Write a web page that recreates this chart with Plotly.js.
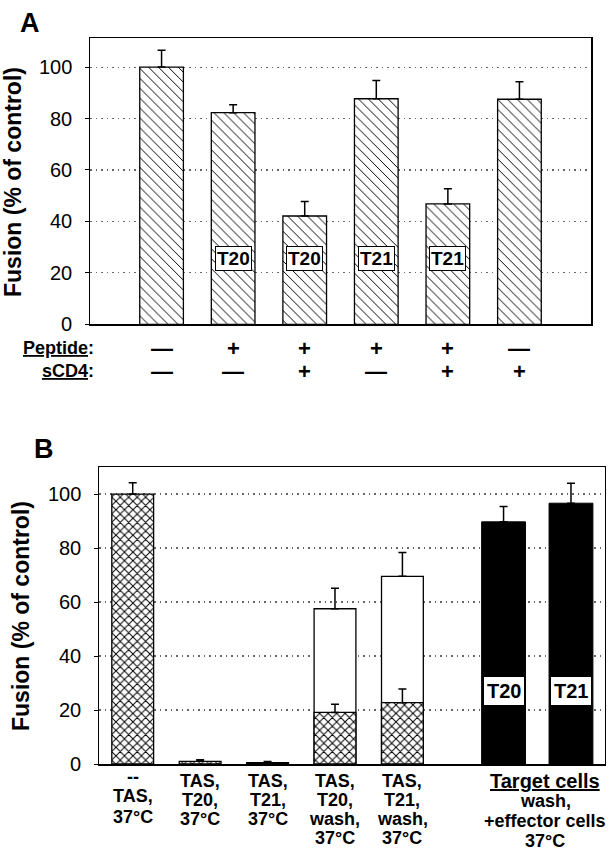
<!DOCTYPE html>
<html>
<head>
<meta charset="utf-8">
<script src="https://cdn.plot.ly/plotly-3.0.1.min.js"></script>
<style>html,body{margin:0;padding:0;background:#fff;}#chart{width:610px;height:852px;}</style>
</head>
<body>
<div id="chart"></div>
<script>
// ---------- Panel A data ----------
const peptideRowA = ['—', '+', '+', '+', '+', '—'];
const sCD4RowA    = ['—', '—', '+', '—', '+', '+'];
const fusionA     = [100, 82.3, 42.1, 87.7, 46.8, 87.5];
const errA        = [6.6, 3.1, 5.6, 7.1, 5.9, 6.8];
const peptideTagA = ['', 'T20', 'T20', 'T21', 'T21', ''];
const yTicks      = [0, 20, 40, 60, 80, 100];
const yTitle      = 'Fusion (% of control)';

// ---------- Panel B data ----------
const labelsB = [
  ['--', 'TAS,', '37°C'],
  ['TAS,', 'T20,', '37°C'],
  ['TAS,', 'T21,', '37°C'],
  ['TAS,', 'T20,', 'wash,', '37°C'],
  ['TAS,', 'T21,', 'wash,', '37°C']
];
const crossB     = [100, 1.0, 0.5, 19.1, 22.7];
const crossErrB  = [4.2, 0.6, 0.4, 3.0, 5.1];
const washTotalB = [null, null, null, 57.5, 69.5];
const washErrB   = [null, null, null, 7.6, 8.8];
const targetB    = [89.7, 96.6];
const targetErrB = [5.7, 7.4];
const targetTagB = ['T20', 'T21'];
const targetGroupLabel = ['<u>Target cells</u>', 'wash,', '+effector cells', '37°C'];

// ---------- geometry helpers ----------
const W = 610, H = 852;
const px = x => x / W;
const py = y => 1 - y / H;
const FONT = 'Liberation Sans, Arial, Helvetica, sans-serif';

const posA = fusionA.map((_, i) => i + 1);
const posB = crossB.map((_, i) => i + 1);
const posT = targetB.map((_, i) => 6.5 + i);

function errObj(arr) {
  return {type: 'data', symmetric: false, array: arr, arrayminus: arr.map(() => 0),
          color: '#000', thickness: 1.5, width: 4, visible: true};
}

const traces = [
  {
    type: 'bar', x: posA, y: fusionA, xaxis: 'x', yaxis: 'y', width: 0.61,
    marker: {color: '#fff', line: {color: '#000', width: 1.3},
             pattern: {shape: '\\', size: 7, solidity: 0.14, fgcolor: '#000', bgcolor: '#fff'}},
    error_y: errObj(errA), hoverinfo: 'none', showlegend: false
  },
  {
    type: 'bar', x: posB, y: washTotalB, xaxis: 'x2', yaxis: 'y2', width: 0.62,
    marker: {color: '#fff', line: {color: '#000', width: 1.3}},
    error_y: errObj(washErrB), hoverinfo: 'none', showlegend: false
  },
  {
    type: 'bar', x: posB, y: crossB, xaxis: 'x2', yaxis: 'y2', width: 0.62,
    marker: {color: '#fff', line: {color: '#000', width: 1.3},
             pattern: {shape: 'x', size: 6, solidity: 0.3, fgcolor: '#000', bgcolor: '#fff'}},
    error_y: errObj(crossErrB), hoverinfo: 'none', showlegend: false
  },
  {
    type: 'bar', x: posT, y: targetB, xaxis: 'x2', yaxis: 'y2', width: 0.65,
    marker: {color: '#000', line: {color: '#000', width: 1}},
    error_y: errObj(targetErrB), hoverinfo: 'none', showlegend: false
  }
];

const annotations = [];
function ann(o) {
  annotations.push(Object.assign({showarrow: false, font: {family: FONT, size: 18, color: '#000'}}, o));
}

// panel letters
ann({text: '<b>A</b>', xref: 'paper', yref: 'paper', x: px(30), y: py(23), xanchor: 'center', yanchor: 'middle', font: {family: FONT, size: 27, color: '#000'}});
ann({text: '<b>B</b>', xref: 'paper', yref: 'paper', x: px(44), y: py(449), xanchor: 'center', yanchor: 'middle', font: {family: FONT, size: 27, color: '#000'}});

// y titles
ann({text: '<b>' + yTitle + '</b>', xref: 'paper', yref: 'paper', x: px(13), y: py(182), textangle: -90, xanchor: 'center', yanchor: 'middle', font: {family: FONT, size: 23, color: '#000'}});
ann({text: '<b>' + yTitle + '</b>', xref: 'paper', yref: 'paper', x: px(21), y: py(616), textangle: -90, xanchor: 'center', yanchor: 'middle', font: {family: FONT, size: 23, color: '#000'}});

// y tick labels (placed like the reference)
yTicks.forEach(v => {
  ann({text: String(v), xref: 'paper', yref: 'y', x: px(74), y: v, xanchor: 'right', yanchor: 'middle', font: {family: FONT, size: 20, color: '#000'}});
  ann({text: String(v), xref: 'paper', yref: 'y2', x: px(83), y: v, xanchor: 'right', yanchor: 'middle', font: {family: FONT, size: 20, color: '#000'}});
});

// panel A tags inside bars
peptideTagA.forEach((t, i) => {
  if (!t) return;
  ann({text: '<b>' + t + '</b>', xref: 'x', yref: 'y', x: posA[i], y: 25.7, xanchor: 'center', yanchor: 'middle',
       bgcolor: '#fff', bordercolor: '#000', borderwidth: 1, borderpad: 1, font: {family: FONT, size: 19, color: '#000'}});
});

// Peptide / sCD4 rows
ann({text: '<b><u>Peptide</u>:</b>', xref: 'paper', yref: 'paper', x: px(96), y: py(348), xanchor: 'right', yanchor: 'middle'});
ann({text: '<b><u>sCD4</u>:</b>', xref: 'paper', yref: 'paper', x: px(96), y: py(371), xanchor: 'right', yanchor: 'middle'});
peptideRowA.forEach((s, i) => ann({text: '<b>' + s + '</b>', xref: 'x', yref: 'paper', x: posA[i], y: py(348), xanchor: 'center', yanchor: 'middle', font: {family: FONT, size: 22, color: '#000'}}));
sCD4RowA.forEach((s, i) => ann({text: '<b>' + s + '</b>', xref: 'x', yref: 'paper', x: posA[i], y: py(371), xanchor: 'center', yanchor: 'middle', font: {family: FONT, size: 22, color: '#000'}}));

// panel B tags in black bars
targetTagB.forEach((t, i) => {
  ann({text: '<b>' + t + '</b>', xref: 'x2', yref: 'y2', x: posT[i], y: 27, xanchor: 'center', yanchor: 'middle',
       bgcolor: '#fff', bordercolor: '#000', borderwidth: 1, borderpad: 3, font: {family: FONT, size: 20, color: '#000'}});
});

// panel B category labels (one annotation per line)
const lineYFirst = [777, 796, 817];
const lineYOther = [781, 800, 819, 838];
labelsB.forEach((lines, i) => {
  const ys = i === 0 ? lineYFirst : lineYOther;
  lines.forEach((l, k) => ann({text: '<b>' + l + '</b>', xref: 'x2', yref: 'paper', x: posB[i], y: py(ys[k]), xanchor: 'center', yanchor: 'middle',
    font: {family: FONT, size: 18, color: '#000'}}));
});
const groupY = [781, 801, 821, 841];
const groupX = (posT[0] + posT[1]) / 2 + 0.12;
targetGroupLabel.forEach((l, k) => ann({text: '<b>' + l + '</b>', xref: 'x2', yref: 'paper', x: groupX, y: py(groupY[k]), xanchor: 'center', yanchor: 'middle',
  font: {family: FONT, size: k === 0 ? 20 : 18, color: '#000'}}));

function yAxis(domain, range, anchor) {
  return {
    domain: domain, range: range, anchor: anchor, tickvals: yTicks, showticklabels: false,
    showgrid: true, gridcolor: '#666', griddash: '1.5px,4px', gridwidth: 1.2,
    zeroline: false, showline: true, linecolor: '#000', linewidth: 1.5, mirror: true,
    ticks: 'outside', ticklen: 4, tickcolor: '#000', tickwidth: 1, fixedrange: true
  };
}
function xAxis(domain, range, anchor) {
  return {
    domain: domain, range: range, anchor: anchor, showticklabels: false, ticks: '', showgrid: false,
    zeroline: false, showline: true, linecolor: '#000', linewidth: 1.5, mirror: true, fixedrange: true
  };
}

const layout = {
  width: W, height: H, margin: {l: 0, r: 0, t: 0, b: 0},
  paper_bgcolor: '#fff', plot_bgcolor: '#fff', barmode: 'overlay', showlegend: false,
  font: {family: FONT, color: '#000'},
  xaxis: xAxis([px(90), px(591)], [0, 7], 'y'),
  yaxis: yAxis([py(324.3), py(38.3)], [0, 111.2], 'x'),
  xaxis2: xAxis([px(99), px(604.7)], [0.5, 8.0], 'y2'),
  yaxis2: yAxis([py(764), py(467.3)], [0, 109.9], 'x2'),
  annotations: annotations
};

Plotly.newPlot('chart', traces, layout, {displayModeBar: false, staticPlot: true});
</script>
</body>
</html>
